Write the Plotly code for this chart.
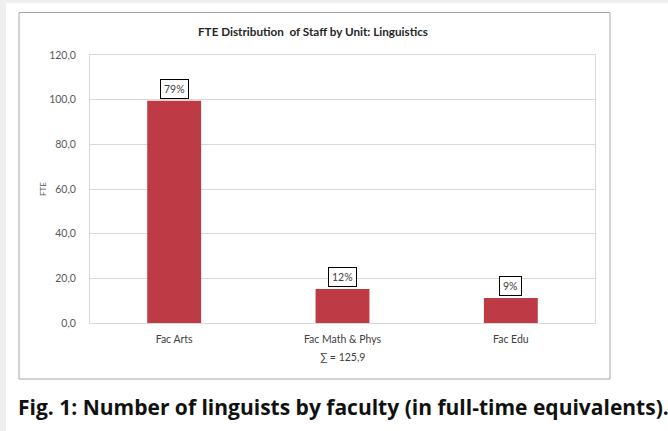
import plotly.graph_objects as go

categories = ["Fac Arts", "Fac Math & Phys", "Fac Edu"]
fte_values = [99.5, 15.2, 11.2]
y_ticks = [0, 20, 40, 60, 80, 100, 120]

total = sum(fte_values)
pct_labels = [f"{round(v / total * 100):.0f}%" for v in fte_values]

W, H = 668, 431
L, R, T, B = 90, 595, 55, 323  # plot area in px


def px(x):
    return (x - L) / (R - L)


def py(y):
    return (B - y) / (B - T)


FONT = "Lato"

fig = go.Figure()
fig.add_trace(go.Bar(
    x=categories, y=fte_values,
    marker=dict(color="#BE3A45", line=dict(width=0)),
    width=0.32,
    hoverinfo="skip",
))

for c, v, lab in zip(categories, fte_values, pct_labels):
    fig.add_annotation(
        x=c, y=v, xref="x", yref="y", text=lab, showarrow=False,
        yanchor="bottom", yshift=2,
        font=dict(family=FONT, size=10.5, color="#404040"),
        bordercolor="#000000", borderwidth=1, borderpad=3,
        bgcolor="white",
    )

# sum annotation under middle category
fig.add_annotation(
    x=categories[1], y=py(357), xref="x", yref="paper", yanchor="middle",
    text="∑ = " + f"{total:.1f}".replace(".", ","), showarrow=False,
    font=dict(family=FONT, size=10.5, color="#404040"),
)

# chart title
fig.add_annotation(
    x=px(313), y=py(31), xref="paper", yref="paper", xanchor="center", yanchor="middle",
    text="<b>FTE Distribution  of Staff by Unit: Linguistics</b>", showarrow=False,
    font=dict(family=FONT, size=11.7, color="#262626"),
)

# caption
fig.add_annotation(
    x=px(16), y=py(407), xref="paper", yref="paper", xanchor="left", yanchor="middle",
    text="<b>Fig. 1: Number of linguists by faculty (in full-time equivalents).</b>",
    showarrow=False,
    font=dict(family="Open Sans", size=21, color="#111111"),
)

# y-axis title
fig.add_annotation(
    x=px(43), y=py(189), xref="paper", yref="paper", textangle=-90,
    xanchor="center", yanchor="middle",
    text="FTE", showarrow=False,
    font=dict(family=FONT, size=8, color="#595959"),
)

shapes = [
    # gray strips
    dict(type="rect", xref="paper", yref="paper", x0=px(0), x1=px(6), y0=py(0), y1=py(H),
         fillcolor="#EFEFEF", line=dict(width=0), layer="below"),
    dict(type="rect", xref="paper", yref="paper", x0=px(0), x1=px(W), y0=py(0), y1=py(3),
         fillcolor="#EFEFEF", line=dict(width=0), layer="below"),
    # chart box border
    dict(type="rect", xref="paper", yref="paper", x0=px(19), x1=px(610), y0=py(12.5), y1=py(379),
         line=dict(color="#A6A6A6", width=1), fillcolor="rgba(0,0,0,0)", layer="below"),
]

fig.update_layout(
    width=W, height=H,
    margin=dict(l=L, r=W - R, t=T, b=H - B),
    paper_bgcolor="white", plot_bgcolor="white",
    separators=",.",
    showlegend=False,
    shapes=shapes,
)
fig.update_yaxes(
    range=[0, 120], tickvals=y_ticks, tickformat=".1f",
    showgrid=True, gridcolor="#D9D9D9", gridwidth=1,
    showline=True, linecolor="#D9D9D9", mirror=True,
    zeroline=False, ticks="", ticklen=0, ticklabelstandoff=11,
    tickfont=dict(family=FONT, size=10.5, color="#595959"),
    fixedrange=True,
)
fig.update_xaxes(
    showline=True, linecolor="#D9D9D9", mirror=True,
    ticks="", ticklabelstandoff=6,
    tickfont=dict(family=FONT, size=10.5, color="#404040"),
    fixedrange=True,
)

fig.write_html(
    "out.html",
    config={"displayModeBar": False},
    post_script="document.body.style.margin='0';document.body.style.overflow='hidden';",
)
